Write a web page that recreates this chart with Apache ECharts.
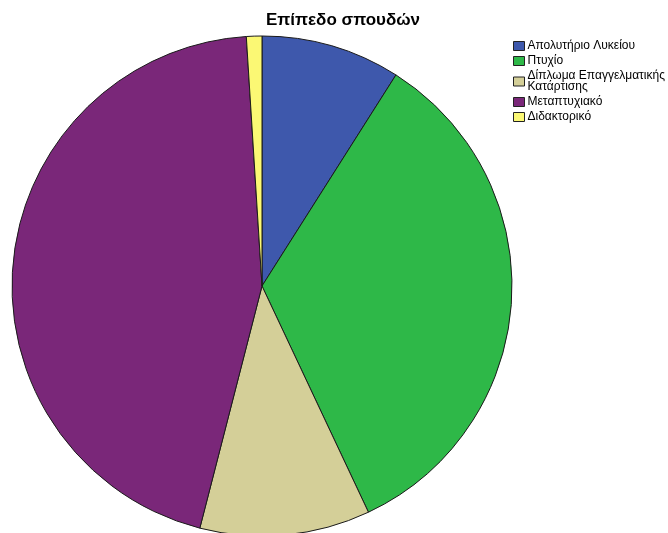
<!DOCTYPE html>
<html>
<head>
<meta charset="utf-8">
<script src="https://cdn.jsdelivr.net/npm/echarts@6/dist/echarts.min.js"></script>
<style>
  html, body { margin: 0; padding: 0; background: #fff; }
  #chart { width: 668px; height: 533px; }
</style>
</head>
<body>
<div id="chart"></div>
<script>
// Education level distribution
const categories = [
  'Απολυτήριο Λυκείου',
  'Πτυχίο',
  'Δίπλωμα Επαγγελματικής\nΚατάρτισης',
  'Μεταπτυχιακό',
  'Διδακτορικό'
];
const values = [9, 34, 11, 45, 1];
const colors = ['#3E58AC', '#2EB848', '#D4CF98', '#7A2779', '#FBF874'];

const chart = echarts.init(document.getElementById('chart'), null, { renderer: 'canvas' });

chart.setOption({
  animation: false,
  color: colors,
  title: {
    text: 'Επίπεδο σπουδών',
    left: 343,
    top: 12,
    textAlign: 'center',
    padding: 0,
    textStyle: {
      fontFamily: 'Liberation Sans, Arial, sans-serif',
      fontSize: 17,
      fontWeight: 'bold',
      color: '#000'
    }
  },
  legend: {
    orient: 'vertical',
    left: 513,
    top: 40,
    padding: 0,
    itemWidth: 11,
    itemHeight: 9,
    itemGap: 3,
    selectedMode: false,
    icon: 'rect',
    itemStyle: { borderColor: '#222', borderWidth: 1 },
    textStyle: {
      fontFamily: 'Liberation Sans, Arial, sans-serif',
      fontSize: 12,
      lineHeight: 11,
      color: '#000',
      padding: [0, 0, 0, -2]
    },
    data: categories
  },
  series: [{
    type: 'pie',
    center: [262, 286],
    radius: [0, 250],
    startAngle: 90,
    clockwise: true,
    label: { show: false },
    labelLine: { show: false },
    emphasis: { disabled: true },
    itemStyle: { borderColor: '#1a1a1a', borderWidth: 1 },
    data: categories.map((name, i) => ({ name: name, value: values[i] }))
  }]
});
</script>
</body>
</html>
